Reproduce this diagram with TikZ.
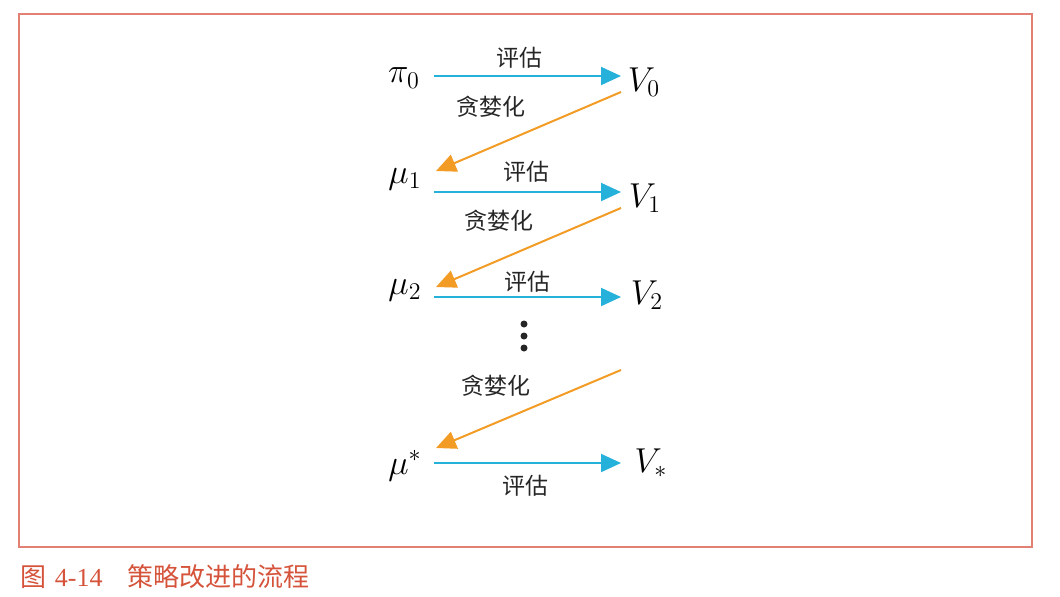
\documentclass[tikz,border=0pt]{standalone}
\usepackage{fontspec}
\newfontfamily\cjk{Noto Sans CJK SC}
\newfontfamily\capnum{Liberation Serif}
\usetikzlibrary{arrows.meta,calc}
\definecolor{evalblue}{RGB}{38,177,219}
\definecolor{greedyorange}{RGB}{242,155,37}
\definecolor{framered}{RGB}{226,128,116}
\definecolor{capred}{RGB}{213,83,58}
\begin{document}
\begin{tikzpicture}[x=0.5pt,y=-0.5pt,
    math/.style={inner sep=0pt,font=\fontsize{18}{22}\selectfont},
    tag/.style={inner sep=0pt,text=black!85,font=\cjk\fontsize{11.5}{14}\selectfont},
    eval/.style={draw=evalblue,line width=1pt,-{Triangle[length=10pt,width=9pt]}},
    greedy/.style={draw=greedyorange,line width=1pt,-{Triangle[length=10pt,width=9pt]}}]
  \useasboundingbox (0,0) rectangle (1060,596);
  \draw[framered,line width=1pt] (19,14) rectangle (1032,547);

  % policies and values
  \node[math] (pi0) at (404,78) {$\pi_0$};
  \node[math] (V0) at (644,82) {$V_0$};
  \node[math] (mu1) at (405,179) {$\mu_1$};
  \node[math] (V1) at (645,198) {$V_1$};
  \node[math] (mu2) at (405,290) {$\mu_2$};
  \node[math] (V2) at (647,295) {$V_2$};
  \node[math] (mustar) at (405,466) {$\mu^*$};
  \node[math] (Vstar) at (651,463) {$V_*$};
  \coordinate (gap) at (621,370);
  \foreach \y in {324,336,348}
    \fill[black!85] (524,\y) circle [radius=1.75pt];

  % labels
  \node[tag] (e0) at (519,58) {评估};
  \node[tag] (g0) at (491,107) {贪婪化};
  \node[tag] (e1) at (526,172) {评估};
  \node[tag] (g1) at (499,221) {贪婪化};
  \node[tag] (e2) at (527,282) {评估};
  \node[tag] (g2) at (496,386) {贪婪化};
  \node[tag] (e3) at (525,486) {评估};

  % arrows
  \draw[eval] ($(pi0)+(30,-2)$) -- ($(V0)+(-23,-6)$);
  \draw[greedy] ($(V0)+(-23,10)$) -- ($(mu1)+(31,-8)$);
  \draw[eval] ($(mu1)+(29,13)$) -- ($(V1)+(-24,-6)$);
  \draw[greedy] ($(V1)+(-24,10)$) -- ($(mu2)+(31,-3)$);
  \draw[eval] ($(mu2)+(29,7)$) -- ($(V2)+(-26,2)$);
  \draw[greedy] (gap) -- ($(mustar)+(31,-18)$);
  \draw[eval] ($(mustar)+(29,-3)$) -- ($(Vstar)+(-30,0)$);

  \node[anchor=west,inner sep=0pt,text=capred,font=\fontsize{13}{16}\selectfont] (cap) at (20,577)
    {{\cjk 图} {\capnum 4-14}\hspace{0.95em}{\cjk 策略改进的流程}};
\end{tikzpicture}
\end{document}
